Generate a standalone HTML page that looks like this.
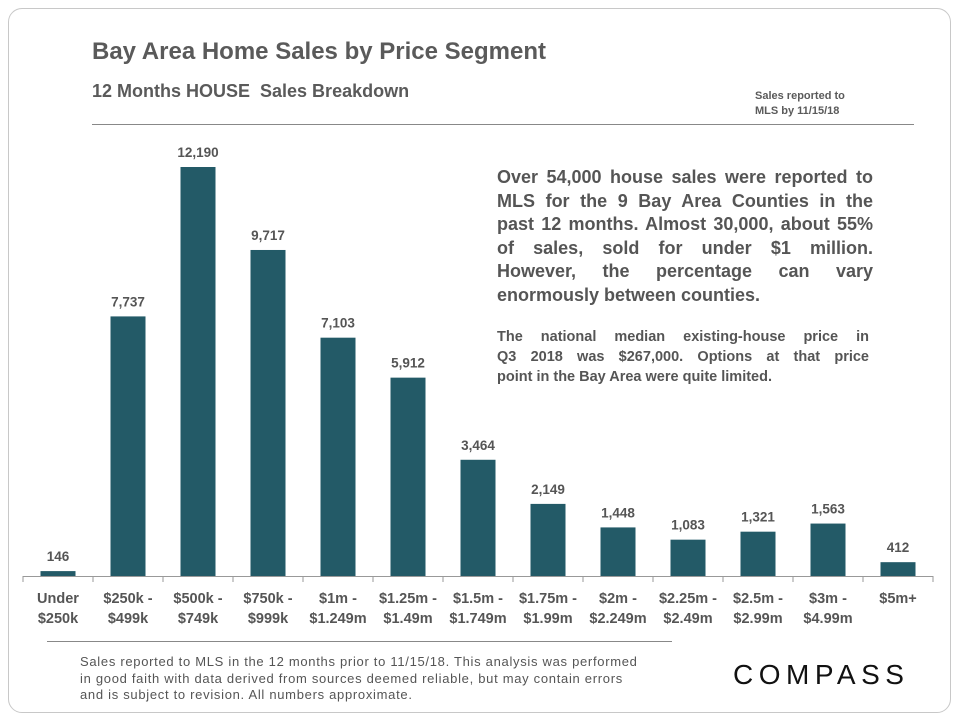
<!DOCTYPE html>
<html><head><meta charset="utf-8"><style>
body{margin:0;width:960px;height:720px;background:#fff;font-family:"Liberation Sans",Arial,sans-serif;overflow:hidden}
.card{position:absolute;left:8px;top:8px;width:941px;height:703px;border:1px solid #c8c8c8;border-radius:14px}
.t{position:absolute;color:#5a5a5a;font-weight:bold;white-space:nowrap}
.j{text-align:justify;text-align-last:justify;white-space:nowrap}
.l{text-align:left;white-space:nowrap}
</style></head><body>
<div class="card"></div>
<div class="t" style="left:92px;top:38px;font-size:24px">Bay Area Home Sales by Price Segment</div>
<div class="t" style="left:92px;top:81px;font-size:18px">12 Months HOUSE&nbsp; Sales Breakdown</div>
<div class="t" style="left:755px;top:89px;font-size:11px;line-height:15px">Sales reported to<br>MLS by 11/15/18</div>
<div style="position:absolute;left:92px;top:124px;width:822px;height:1px;background:#888"></div>
<div class="t" style="left:497px;top:166px;width:376px;font-size:18px;line-height:23.5px;color:#555">
<div class="j">Over 54,000 house sales were reported to</div>
<div class="j">MLS for the 9 Bay Area Counties in the</div>
<div class="j">past 12 months. Almost 30,000, about 55%</div>
<div class="j">of sales, sold for under $1 million.</div>
<div class="j">However, the percentage can vary</div>
<div class="l">enormously between counties.</div>
</div>
<div class="t" style="left:497px;top:327px;width:372px;font-size:14.5px;line-height:20px;color:#555">
<div class="j">The national median existing-house price in</div>
<div class="j">Q3 2018 was $267,000. Options at that price</div>
<div class="l">point in the Bay Area were quite limited.</div>
</div>
<svg id="chart" width="960" height="720" style="position:absolute;left:0;top:0"></svg>
<div style="position:absolute;left:47px;top:641px;width:625px;height:1px;background:#888"></div>
<div class="t" style="left:80px;top:654px;font-size:13px;letter-spacing:0.7px;line-height:16.5px;color:#555;font-weight:normal">Sales reported to MLS in the 12 months prior to 11/15/18. This analysis was performed<br>in good faith with data derived from sources deemed reliable, but may contain errors<br>and is subject to revision. All numbers approximate.</div>
<div style="position:absolute;left:733px;top:659px;font-size:28px;letter-spacing:5.5px;color:#111">COMPASS</div>
<script>
const categories=[["Under","$250k"],["$250k -","$499k"],["$500k -","$749k"],["$750k -","$999k"],["$1m -","$1.249m"],["$1.25m -","$1.49m"],["$1.5m -","$1.749m"],["$1.75m -","$1.99m"],["$2m -","$2.249m"],["$2.25m -","$2.49m"],["$2.5m -","$2.99m"],["$3m -","$4.99m"],["$5m+",""]];
const values=[146,7737,12190,9717,7103,5912,3464,2149,1448,1083,1321,1563,412];
const valueLabels=["146","7,737","12,190","9,717","7,103","5,912","3,464","2,149","1,448","1,083","1,321","1,563","412"];
const svg=document.getElementById('chart');const NS='http://www.w3.org/2000/svg';
const x0=23,x1=933,base=576,ymaxPx=167,vmax=12190;
const step=(x1-x0)/categories.length;
const y=v=>base-(v/vmax)*(base-ymaxPx);
const xc=i=>x0+step*(i+0.5);
function mk(t,a){const e=document.createElementNS(NS,t);for(const k in a)e.setAttribute(k,a[k]);svg.appendChild(e);return e;}
values.forEach((v,i)=>{
 const r=mk('rect',{x:xc(i)-17.5,y:y(v),width:35,height:base-y(v),fill:'#235a67'});
 
 
 const t=mk('text',{x:xc(i),y:y(v)-10,'text-anchor':'middle','font-size':'13.5','font-weight':'bold',fill:'#555'});
 t.textContent=valueLabels[i];
 
 
 categories[i].forEach((s,j)=>{
  const c=mk('text',{x:xc(i),y:603+j*20,'text-anchor':'middle','font-size':'14.5','font-weight':'bold',fill:'#555'});
  c.textContent=s;
  
  
 });
});
const ax=mk('line',{x1:x0,x2:x1,y1:base+0.5,y2:base+0.5,stroke:'#999','stroke-width':1});


for(let i=0;i<=categories.length;i++){
 const tk=mk('line',{x1:x0+step*i,x2:x0+step*i,y1:base,y2:base+6,stroke:'#999'});
 
 
}
</script>
</body></html>
